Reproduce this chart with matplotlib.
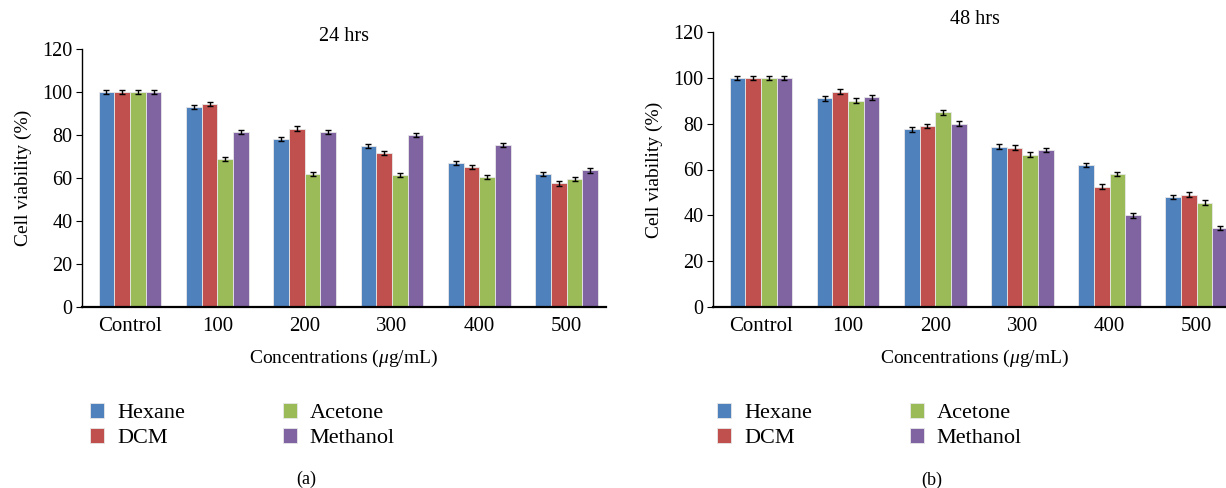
import matplotlib
matplotlib.use("Agg")

import matplotlib.pyplot as plt
import numpy as np

plt.rcParams["font.family"] = ["Liberation Serif", "DejaVu Serif"]
plt.rcParams["mathtext.fontset"] = "custom"
plt.rcParams["mathtext.it"] = "Liberation Serif:italic"
plt.rcParams["mathtext.rm"] = "Liberation Serif"

categories = ["Control", "100", "200", "300", "400", "500"]
solvents = ["Hexane", "DCM", "Acetone", "Methanol"]
colors = ["#4F81BD", "#C0504D", "#9BBB59", "#8064A2"]

hexane_24 = [100, 93, 78, 75, 67, 62]
dcm_24 = [100, 94.5, 83, 71.5, 65, 57.5]
acetone_24 = [100, 69, 62, 61.5, 60.5, 59.5]
methanol_24 = [100, 81.5, 81.5, 80, 75.5, 63.5]

hexane_48 = [100, 91, 77.5, 70, 62, 48]
dcm_48 = [100, 94, 79, 69.5, 52.5, 49]
acetone_48 = [100, 90, 85, 66.5, 58, 45.5]
methanol_48 = [100, 91.5, 80, 68.5, 40, 34.5]

err = 1.0

W, H = 1226, 488
fig = plt.figure(figsize=(W / 100, H / 100), dpi=100)


def px_axes(x0, x1, y_top, y_bot):
    return fig.add_axes([x0 / W, 1 - y_bot / H, (x1 - x0) / W, (y_bot - y_top) / H])


def draw_panel(ax, series, title):
    x = np.arange(len(categories))
    bw = 0.18
    for i, (vals, col, name) in enumerate(zip(series, colors, solvents)):
        ax.bar(x + (i - 1.5) * bw, vals, bw, color=col, edgecolor="#e8e8e8",
               linewidth=0.6, label=name,
               yerr=err, error_kw=dict(ecolor="black", elinewidth=1, capsize=2.5, capthick=1))
    ax.set_xlim(-0.55, 5.45)
    ax.set_ylim(0, 120)
    ax.set_yticks(range(0, 121, 20))
    ax.set_xticks(x)
    ax.set_xticklabels(categories)
    ax.tick_params(axis="x", length=0, labelsize=15, pad=7)
    ax.tick_params(axis="y", length=4, direction="out", labelsize=14.5, pad=3)
    for s in ["top", "right"]:
        ax.spines[s].set_visible(False)
    ax.spines["left"].set_linewidth(1.0)
    ax.spines["bottom"].set_linewidth(1.6)
    ax.set_ylabel("Cell viability (%)", fontsize=14, labelpad=7)
    ax.set_xlabel(r"Concentrations ($\mu$g/mL)", fontsize=14, labelpad=9)
    ax.set_title(title, fontsize=14.5, pad=6)


ax1 = px_axes(82, 606, 49, 307)
draw_panel(ax1, [hexane_24, dcm_24, acetone_24, methanol_24], "24 hrs")
ax2 = px_axes(713, 1236, 32, 307)
draw_panel(ax2, [hexane_48, dcm_48, acetone_48, methanol_48], "48 hrs")

for ax, lx in [(ax1, 90 / W), (ax2, 717 / W)]:
    ax.legend(loc="upper left", bbox_to_anchor=(lx, 1 - 403 / H), bbox_transform=fig.transFigure,
              ncol=2, frameon=False, fontsize=16, handlelength=0.63, handleheight=0.63,
              handletextpad=0.58, columnspacing=4.4, labelspacing=0.22, borderaxespad=0,
              borderpad=0)

fig.text(306 / W, 1 - 479 / H, "(a)", ha="center", va="center", fontsize=13)
fig.text(932 / W, 1 - 480 / H, "(b)", ha="center", va="center", fontsize=13)

fig.savefig("out.png", dpi=100)
